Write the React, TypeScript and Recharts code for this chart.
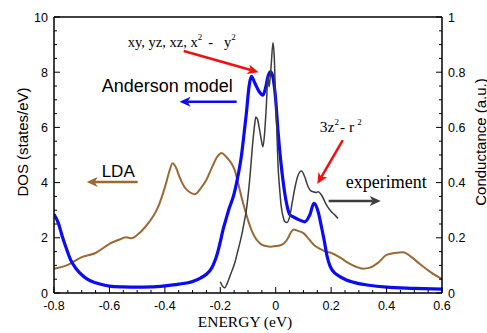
import React from 'react';
import { LineChart, Line, XAxis, YAxis, ReferenceLine, ReferenceDot, Label } from 'recharts';

// LDA density of states (states/eV)
const ldaEnergy = [-0.8, -0.75, -0.7, -0.65, -0.6, -0.56, -0.54, -0.52, -0.5, -0.47, -0.444, -0.425, -0.407, -0.395, -0.384, -0.372, -0.36, -0.347, -0.33, -0.31, -0.292, -0.27, -0.25, -0.23, -0.21, -0.195, -0.18, -0.16, -0.148, -0.136, -0.124, -0.112, -0.1, -0.088, -0.076, -0.064, -0.052, -0.035, -0.02, 0, 0.02, 0.035, 0.045, 0.055, 0.065, 0.08, 0.1, 0.12, 0.14, 0.16, 0.18, 0.2, 0.23, 0.26, 0.29, 0.315, 0.34, 0.37, 0.4, 0.43, 0.46, 0.49, 0.52, 0.56, 0.6];
const ldaDos = [0.88, 1.02, 1.3, 1.45, 1.78, 1.95, 2.02, 1.98, 2.1, 2.4, 2.75, 3.1, 3.6, 4.0, 4.4, 4.7, 4.55, 4.2, 3.85, 3.65, 3.58, 3.8, 4.1, 4.55, 4.95, 5.07, 4.95, 4.7, 4.45, 4.0, 3.5, 3.05, 2.64, 2.3, 2.04, 1.87, 1.76, 1.7, 1.68, 1.7, 1.74, 1.85, 2.0, 2.2, 2.3, 2.25, 2.17, 1.95, 1.72, 1.6, 1.5, 1.45, 1.3, 1.1, 0.95, 0.88, 0.92, 1.1, 1.38, 1.45, 1.48, 1.3, 1.05, 0.75, 0.5];

// Anderson model density of states (states/eV)
const andersonEnergy = [-0.8, -0.785, -0.77, -0.755, -0.74, -0.72, -0.7, -0.68, -0.65, -0.62, -0.6, -0.55, -0.5, -0.45, -0.4, -0.35, -0.3, -0.27, -0.25, -0.23, -0.22, -0.21, -0.2, -0.19, -0.18, -0.17, -0.15, -0.135, -0.124, -0.115, -0.106, -0.096, -0.088, -0.075, -0.06, -0.046, -0.035, -0.028, -0.018, -0.008, 0, 0.008, 0.018, 0.026, 0.039, 0.05, 0.065, 0.087, 0.105, 0.123, 0.138, 0.153, 0.165, 0.175, 0.185, 0.195, 0.206, 0.23, 0.255, 0.3, 0.33, 0.4, 0.5, 0.6];
const andersonDos = [2.85, 2.55, 2.05, 1.6, 1.2, 0.88, 0.66, 0.5, 0.37, 0.29, 0.25, 0.22, 0.21, 0.22, 0.26, 0.32, 0.42, 0.55, 0.68, 0.92, 1.15, 1.45, 1.85, 2.3, 2.65, 3.0, 3.6, 4.3, 4.95, 5.7, 6.5, 7.5, 7.85, 7.6, 7.3, 7.17, 7.5, 7.84, 8.02, 7.7, 7.0, 5.9, 4.8, 4.1, 3.25, 2.85, 2.75, 2.64, 2.58, 2.83, 3.25, 2.95, 2.4, 1.9, 1.35, 1.0, 0.8, 0.6, 0.47, 0.34, 0.29, 0.21, 0.17, 0.14];

// measured conductance (a.u.)
const expEnergy = [-0.2, -0.192, -0.184, -0.175, -0.162, -0.148, -0.136, -0.124, -0.115, -0.106, -0.094, -0.082, -0.076, -0.072, -0.066, -0.058, -0.052, -0.046, -0.04, -0.034, -0.028, -0.024, -0.02, -0.016, -0.01, -0.005, -0.001, 0.004, 0.008, 0.014, 0.02, 0.026, 0.032, 0.04, 0.05, 0.06, 0.07, 0.08, 0.093, 0.105, 0.117, 0.127, 0.135, 0.145, 0.153, 0.165, 0.183, 0.2, 0.213, 0.225];
const expConductance = [0.041, 0.025, 0.019, 0.035, 0.07, 0.108, 0.155, 0.204, 0.25, 0.3, 0.41, 0.554, 0.61, 0.638, 0.63, 0.59, 0.555, 0.53, 0.58, 0.675, 0.784, 0.747, 0.78, 0.83, 0.907, 0.85, 0.71, 0.59, 0.47, 0.38, 0.313, 0.28, 0.26, 0.255, 0.275, 0.33, 0.385, 0.425, 0.442, 0.42, 0.385, 0.37, 0.367, 0.364, 0.367, 0.355, 0.319, 0.295, 0.283, 0.27];

const energyTicks = [-0.8, -0.75, -0.7, -0.65, -0.6, -0.55, -0.5, -0.45, -0.4, -0.35, -0.3, -0.25, -0.2, -0.15, -0.1, -0.05, 0, 0.05, 0.1, 0.15, 0.2, 0.25, 0.3, 0.35, 0.4, 0.45, 0.5, 0.55, 0.6];
const dosTicks = [0, 0.5, 1, 1.5, 2, 2.5, 3, 3.5, 4, 4.5, 5, 5.5, 6, 6.5, 7, 7.5, 8, 8.5, 9, 9.5, 10];
const condTicks = [0, 0.05, 0.1, 0.15, 0.2, 0.25, 0.3, 0.35, 0.4, 0.45, 0.5, 0.55, 0.6, 0.65, 0.7, 0.75, 0.8, 0.85, 0.9, 0.95, 1];

// annotation arrows: [fromE, fromDos, toE, toDos]
const orbitalArrow = [-0.332, 8.77, -0.062, 8.0];
const andersonArrow = [-0.141, 6.93, -0.347, 6.93];
const ldaArrow = [-0.498, 4.02, -0.682, 4.02];
const z2Arrow = [0.242, 5.54, 0.15, 3.95];
const expArrow = [0.191, 3.33, 0.379, 3.33];

// annotation label anchors: [energy, dos]
const orbitalLabelAt = [-0.534, 8.91];
const andersonLabelAt = [-0.628, 7.3];
const ldaLabelAt = [-0.628, 4.2];
const z2LabelAt = [0.159, 5.83];
const expLabelAt = [0.253, 3.8];

const BLUE = '#0a0af5';
const BROWN = '#9a6a35';
const GRAY = '#3c3c3c';
const RED = '#f01010';
const SANS = '"Liberation Sans", Arial, sans-serif';
const SERIF = '"Liberation Serif", "Times New Roman", serif';

const toPoints = (e: number[], v: number[]) => e.map((x, i) => ({ e: x, v: v[i] }));
const isMajor = (v: number, step: number) => Math.abs(v / step - Math.round(v / step)) < 1e-6;

const XTick = (p: any) => {
  const v = p.payload.value;
  const major = isMajor(v, 0.2);
  return (
    <g>
      <line x1={p.x} y1={p.y} x2={p.x} y2={p.y - (major ? 6 : 3)} stroke="#000" strokeWidth={1} />
      {major && (
        <text x={p.x} y={p.y + 17} textAnchor="middle" fontFamily={SANS} fontSize={12.5} fill="#000">
          {String(v)}
        </text>
      )}
    </g>
  );
};

const LeftTick = (p: any) => {
  const v = p.payload.value;
  const major = isMajor(v, 2);
  return (
    <g>
      <line x1={p.x} y1={p.y} x2={p.x + (major ? 6 : 3)} y2={p.y} stroke="#000" strokeWidth={1} />
      {major && (
        <text x={p.x - 6} y={p.y} dy="0.36em" textAnchor="end" fontFamily={SANS} fontSize={12.5} fill="#000">
          {String(v)}
        </text>
      )}
    </g>
  );
};

const RightTick = (p: any) => {
  const v = p.payload.value;
  const major = isMajor(v, 0.2);
  return (
    <g>
      <line x1={p.x} y1={p.y} x2={p.x - (major ? 6 : 3)} y2={p.y} stroke="#000" strokeWidth={1} />
      {major && (
        <text x={p.x + 6} y={p.y} dy="0.36em" textAnchor="start" fontFamily={SANS} fontSize={12.5} fill="#000">
          {String(v)}
        </text>
      )}
    </g>
  );
};

const arrowShape = (color: string, width: number) => (p: any) => {
  const { x1, y1, x2, y2 } = p;
  const dx = x2 - x1;
  const dy = y2 - y1;
  const len = Math.hypot(dx, dy) || 1;
  const ux = dx / len;
  const uy = dy / len;
  const hl = 11;
  const hw = 5;
  const bx = x2 - ux * hl;
  const by = y2 - uy * hl;
  const pts = `${x2},${y2} ${bx - uy * hw},${by + ux * hw} ${bx + ux * 3},${by + uy * 3} ${bx + uy * hw},${by - ux * hw}`;
  return (
    <g>
      <line x1={x1} y1={y1} x2={bx + ux * 3} y2={by + uy * 3} stroke={color} strokeWidth={width} />
      <polygon points={pts} fill={color} />
    </g>
  );
};

const Arrow = (a: number[], color: string) => (
  <ReferenceLine
    yAxisId="left"
    segment={[{ x: a[0], y: a[1] }, { x: a[2], y: a[3] }]}
    stroke={color}
    shape={arrowShape(color, 2.5)}
  />
);

const textAt = (at: number[], render: (cx: number, cy: number) => React.ReactElement) => (
  <ReferenceDot yAxisId="left" x={at[0]} y={at[1]} r={0} shape={(p: any) => render(p.cx, p.cy)} />
);

export default function App() {
  return (
    <div style={{ position: 'absolute', left: 0, top: 0, width: 487, height: 333, background: '#fff' }}>
      <LineChart width={487} height={333} margin={{ top: 17, right: 0, bottom: 0, left: 0 }}>
        <XAxis
          type="number"
          dataKey="e"
          domain={[-0.8, 0.6]}
          ticks={energyTicks}
          interval={0}
          allowDataOverflow
          height={40}
          tickSize={0}
          tickMargin={0}
          tickLine={false}
          tick={<XTick />}
          axisLine={{ stroke: '#000', strokeWidth: 1.5 }}
        >
          <Label
            content={(p: any) => (
              <text x={p.viewBox.x + 191} y={p.viewBox.y + 34} textAnchor="middle" fontFamily={SERIF} fontSize={15.5} fill="#000">
                ENERGY (eV)
              </text>
            )}
          />
        </XAxis>
        <YAxis
          yAxisId="left"
          type="number"
          domain={[0, 10]}
          ticks={dosTicks}
          interval={0}
          allowDataOverflow
          width={54}
          tickSize={0}
          tickMargin={0}
          tickLine={false}
          tick={<LeftTick />}
          axisLine={{ stroke: '#000', strokeWidth: 1.5 }}
        >
          <Label
            content={(p: any) => (
              <text
                x={p.viewBox.x + 22}
                y={p.viewBox.y + 125}
                transform={`rotate(-90 ${p.viewBox.x + 22} ${p.viewBox.y + 125})`}
                textAnchor="middle"
                dominantBaseline="central"
                fontFamily={SANS}
                fontSize={15}
                fill="#000"
              >
                DOS (states/eV)
              </text>
            )}
          />
        </YAxis>
        <YAxis
          yAxisId="right"
          orientation="right"
          type="number"
          domain={[0, 1]}
          ticks={condTicks}
          interval={0}
          allowDataOverflow
          width={45}
          tickSize={0}
          tickMargin={0}
          tickLine={false}
          tick={<RightTick />}
          axisLine={{ stroke: '#000', strokeWidth: 1.5 }}
        >
          <Label
            content={(p: any) => (
              <text
                x={p.viewBox.x + 38}
                y={p.viewBox.y + 125}
                transform={`rotate(-90 ${p.viewBox.x + 38} ${p.viewBox.y + 125})`}
                textAnchor="middle"
                dominantBaseline="central"
                fontFamily={SANS}
                fontSize={15}
                fill="#000"
              >
                Conductance (a.u.)
              </text>
            )}
          />
        </YAxis>
        <ReferenceLine yAxisId="left" y={10} stroke="#000" strokeWidth={1.5} />

        <Line yAxisId="left" data={toPoints(ldaEnergy, ldaDos)} dataKey="v" type="monotone" stroke={BROWN} strokeWidth={2} dot={false} activeDot={false} isAnimationActive={false} />
        <Line yAxisId="left" data={toPoints(andersonEnergy, andersonDos)} dataKey="v" type="monotone" stroke={BLUE} strokeWidth={3.2} dot={false} activeDot={false} isAnimationActive={false} />
        <Line yAxisId="right" data={toPoints(expEnergy, expConductance)} dataKey="v" type="monotone" stroke={GRAY} strokeWidth={1.5} dot={false} activeDot={false} isAnimationActive={false} />

        {Arrow(orbitalArrow, RED)}
        {Arrow(andersonArrow, BLUE)}
        {Arrow(ldaArrow, BROWN)}
        {Arrow(z2Arrow, RED)}
        {Arrow(expArrow, GRAY)}

        {textAt(orbitalLabelAt, (x, y) => (
          <text x={x} y={y} fontFamily={SERIF} fontSize={14.5} fill="#000">
            <tspan>xy, yz, xz, x</tspan>
            <tspan dy={-7} fontSize={9}>2</tspan>
            <tspan dy={7} dx={6}>-</tspan>
            <tspan dx={11}>y</tspan>
            <tspan dy={-7} fontSize={9}>2</tspan>
          </text>
        ))}
        {textAt(andersonLabelAt, (x, y) => (
          <text x={x} y={y} fontFamily={SANS} fontSize={18} fill="#000">Anderson model</text>
        ))}
        {textAt(ldaLabelAt, (x, y) => (
          <text x={x} y={y} fontFamily={SANS} fontSize={17} fill="#000">LDA</text>
        ))}
        {textAt(z2LabelAt, (x, y) => (
          <text x={x} y={y} fontFamily={SERIF} fontSize={15.5} fill="#000">
            <tspan>3z</tspan>
            <tspan dy={-7} fontSize={9}>2</tspan>
            <tspan dy={7} dx={1}>-</tspan>
            <tspan dx={4}>r</tspan>
            <tspan dy={-7} dx={3} fontSize={9}>2</tspan>
          </text>
        ))}
        {textAt(expLabelAt, (x, y) => (
          <text x={x} y={y} fontFamily={SERIF} fontSize={18} fill="#000">experiment</text>
        ))}
      </LineChart>
    </div>
  );
}
